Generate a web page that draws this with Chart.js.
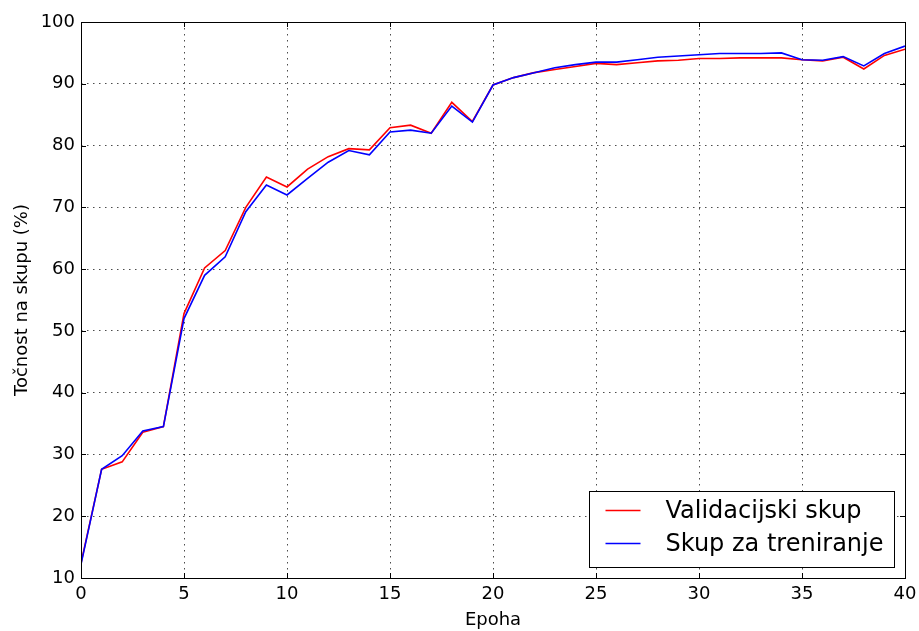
<!DOCTYPE html>
<html>
<head>
<meta charset="utf-8">
<script src="https://cdn.jsdelivr.net/npm/chart.js@4.4.0/dist/chart.umd.min.js"></script>
<style>
  html, body { margin: 0; padding: 0; background: #fff; }
  #wrap { width: 919px; height: 631px; }
</style>
</head>
<body>
<div id="wrap"><canvas id="grafTocnost" width="919" height="631"></canvas></div>
<script>
// Podaci ocitani s grafa
const epohe = [0,1,2,3,4,5,6,7,8,9,10,11,12,13,14,15,16,17,18,19,20,
  21,22,23,24,25,26,27,28,29,30,31,32,33,34,35,36,37,38,39,40];
const validacija = [12.4,27.6,28.8,33.6,34.5,52.8,60.2,63.0,70.0,74.9,73.3,
  76.2,78.2,79.5,79.3,82.9,83.3,82.0,87.0,83.9,89.8,
  91.0,91.8,92.3,92.8,93.3,93.1,93.4,93.7,93.8,94.1,
  94.1,94.2,94.2,94.2,93.9,93.7,94.3,92.4,94.6,95.6];
const treniranje = [12.2,27.6,29.8,33.8,34.5,52.0,59.0,62.0,69.3,73.6,72.0,
  74.7,77.3,79.2,78.5,82.2,82.5,82.0,86.4,83.8,89.8,
  91.0,91.8,92.6,93.1,93.5,93.5,93.9,94.3,94.5,94.7,
  94.9,94.9,94.9,95.0,93.9,93.8,94.4,92.9,94.9,96.1];
const xTicks = [0,5,10,15,20,25,30,35,40];
const yTicks = [10,20,30,40,50,60,70,80,90,100];
const nazivi = ['Validacijski skup', 'Skup za treniranje'];
const boje = ['#ff0000', '#0000ff'];

const tocke = vals => epohe.map((e, i) => ({ x: e, y: vals[i] }));

// okvir i kratke crtice prema unutra (kao matplotlib)
const okvirPlugin = {
  id: 'okvir',
  afterDraw(chart) {
    const ctx = chart.ctx;
    const a = chart.chartArea;
    const sx = chart.scales.x, sy = chart.scales.y;
    const L = 5;
    ctx.save();
    ctx.strokeStyle = '#000';
    ctx.lineWidth = 1;
    ctx.beginPath();
    xTicks.forEach(t => {
      const px = Math.round(sx.getPixelForValue(t)) + 0.5;
      ctx.moveTo(px, a.bottom); ctx.lineTo(px, a.bottom - L);
      ctx.moveTo(px, a.top); ctx.lineTo(px, a.top + L);
    });
    yTicks.forEach(t => {
      const py = Math.round(sy.getPixelForValue(t)) + 0.5;
      ctx.moveTo(a.left, py); ctx.lineTo(a.left + L, py);
      ctx.moveTo(a.right, py); ctx.lineTo(a.right - L, py);
    });
    ctx.stroke();
    ctx.strokeRect(Math.round(a.left) + 0.5, Math.round(a.top) + 0.5,
      Math.round(a.right - a.left), Math.round(a.bottom - a.top));

    // legenda unutar grafa, dolje desno
    const w = 305, h = 76;
    const lx = Math.round(a.right - 11 - w) + 0.5;
    const ly = Math.round(a.bottom - 11 - h) + 0.5;
    ctx.fillStyle = '#fff';
    ctx.fillRect(lx, ly, w, h);
    ctx.strokeStyle = '#000';
    ctx.strokeRect(lx, ly, w, h);
    ctx.font = '24px "DejaVu Sans"';
    ctx.textBaseline = 'middle';
    nazivi.forEach((n, i) => {
      const yy = ly + 19 + i * 33;
      ctx.strokeStyle = boje[i];
      ctx.lineWidth = 1.5;
      ctx.beginPath();
      ctx.moveTo(lx + 16, yy); ctx.lineTo(lx + 51, yy);
      ctx.stroke();
      ctx.fillStyle = '#000';
      ctx.fillText(n, lx + 76, yy + 1);
    });
    ctx.restore();
  }
};

new Chart(document.getElementById('grafTocnost').getContext('2d'), {
  type: 'line',
  data: {
    datasets: [
      { label: nazivi[0], data: tocke(validacija), borderColor: boje[0], borderWidth: 1.6,
        pointRadius: 0, tension: 0, fill: false, order: 1 },
      { label: nazivi[1], data: tocke(treniranje), borderColor: boje[1], borderWidth: 1.6,
        pointRadius: 0, tension: 0, fill: false, order: 0 }
    ]
  },
  options: {
    responsive: false,
    animation: false,
    devicePixelRatio: 1,
    layout: { padding: { top: 22, right: 14, left: 0, bottom: 0 } },
    plugins: { legend: { display: false }, tooltip: { enabled: false } },
    scales: {
      x: {
        type: 'linear', min: 0, max: 40,
        afterFit: s => { s.height = 53; s.paddingRight = 0; },
        afterBuildTicks: s => { s.ticks = xTicks.map(v => ({ value: v })); },
        grid: { color: 'rgba(0,0,0,0.7)', lineWidth: 1, drawTicks: false },
        border: { display: false, dash: [1.5, 4.5] },
        ticks: { color: '#000', padding: 6, font: { family: 'DejaVu Sans', size: 18 }, maxRotation: 0 },
        title: { display: true, text: 'Epoha', color: '#000', padding: { top: 0, bottom: 0 },
          font: { family: 'DejaVu Sans', size: 18 } }
      },
      y: {
        type: 'linear', min: 10, max: 100,
        afterFit: s => { s.width = 81; },
        afterBuildTicks: s => { s.ticks = yTicks.map(v => ({ value: v })); },
        grid: { color: 'rgba(0,0,0,0.7)', lineWidth: 1, drawTicks: false },
        border: { display: false, dash: [1.5, 4.5] },
        ticks: { color: '#000', padding: 6, font: { family: 'DejaVu Sans', size: 18 } },
        title: { display: true, text: 'Točnost na skupu (%)', color: '#000', padding: { top: 12, bottom: 0 },
          font: { family: 'DejaVu Sans', size: 18 } }
      }
    }
  },
  plugins: [okvirPlugin]
});
</script>
</body>
</html>
